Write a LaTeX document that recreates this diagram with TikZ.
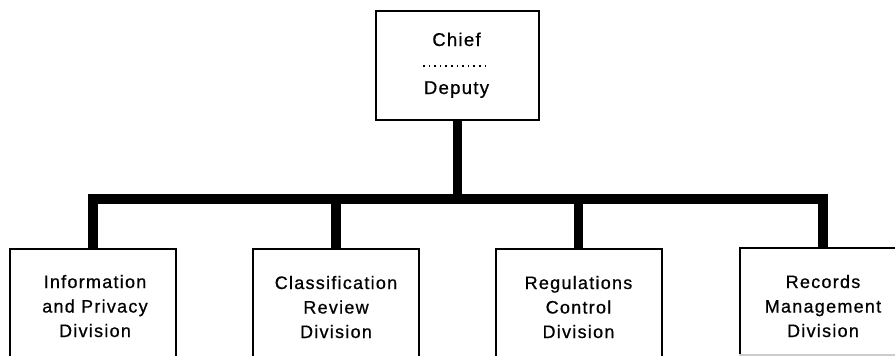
\documentclass[tikz,border=0pt]{standalone}
\usepackage{fontspec}
\setmainfont{Liberation Sans}[LetterSpace=7.0, FakeBold=0.7]
\begin{document}
\begin{tikzpicture}[x=1pt,y=-1pt,
  box/.style={draw=black, line width=2pt, minimum width=166pt, minimum height=140pt, anchor=north, inner sep=0pt},
  lbl/.style={align=center, font=\fontsize{18}{24.5}\selectfont, anchor=base, inner sep=0pt},
  bar/.style={line width=9.5pt, line join=miter, line cap=butt}]
\useasboundingbox (0,0) rectangle (895,356);
\clip (0,0) rectangle (895,356);
% chief box
\node[draw=black, line width=2pt, minimum width=163pt, minimum height=109pt, anchor=north west, inner sep=0pt] (chief) at (375,10) {};
\node[lbl, font=\fontsize{18.5}{24.5}\selectfont] (chiefT) at (456.5,46) {Chief};
\draw[line width=1.8pt, dash pattern=on 1.6pt off 4pt] (423,66) -- (490,66);
\node[lbl, font=\fontsize{18.5}{24.5}\selectfont] (deputy) at (456.5,94) {Deputy};
% division boxes
\node[box] (b1) at (93,248) {};
\node[box] (b2) at (336,248) {};
\node[box] (b3) at (578.5,248) {};
\node[box] (b4) at (823,247) {};
\node[lbl] (t1) at (95,337) {Information\\and Privacy\\Division};
\node[lbl] (t2) at (336,338) {Classification\\Review\\Division};
\node[lbl] (t3) at (578.5,338) {Regulations\\Control\\Division};
\node[lbl] (t4) at (823,337) {Records\\Management\\Division};
\draw[black!20, line width=1.2pt] (b4.north west |- 0,355) -- (895,355);
% connectors
\coordinate (bus) at (0,199);
\draw[bar] (b1.north) |- (b4.north |- bus) -- (b4.north);
\draw[bar] (chief.south) -- (chief.south |- bus);
\draw[bar] (b2.north) -- (b2.north |- bus);
\draw[bar] (b3.north) -- (b3.north |- bus);
\end{tikzpicture}
\end{document}
